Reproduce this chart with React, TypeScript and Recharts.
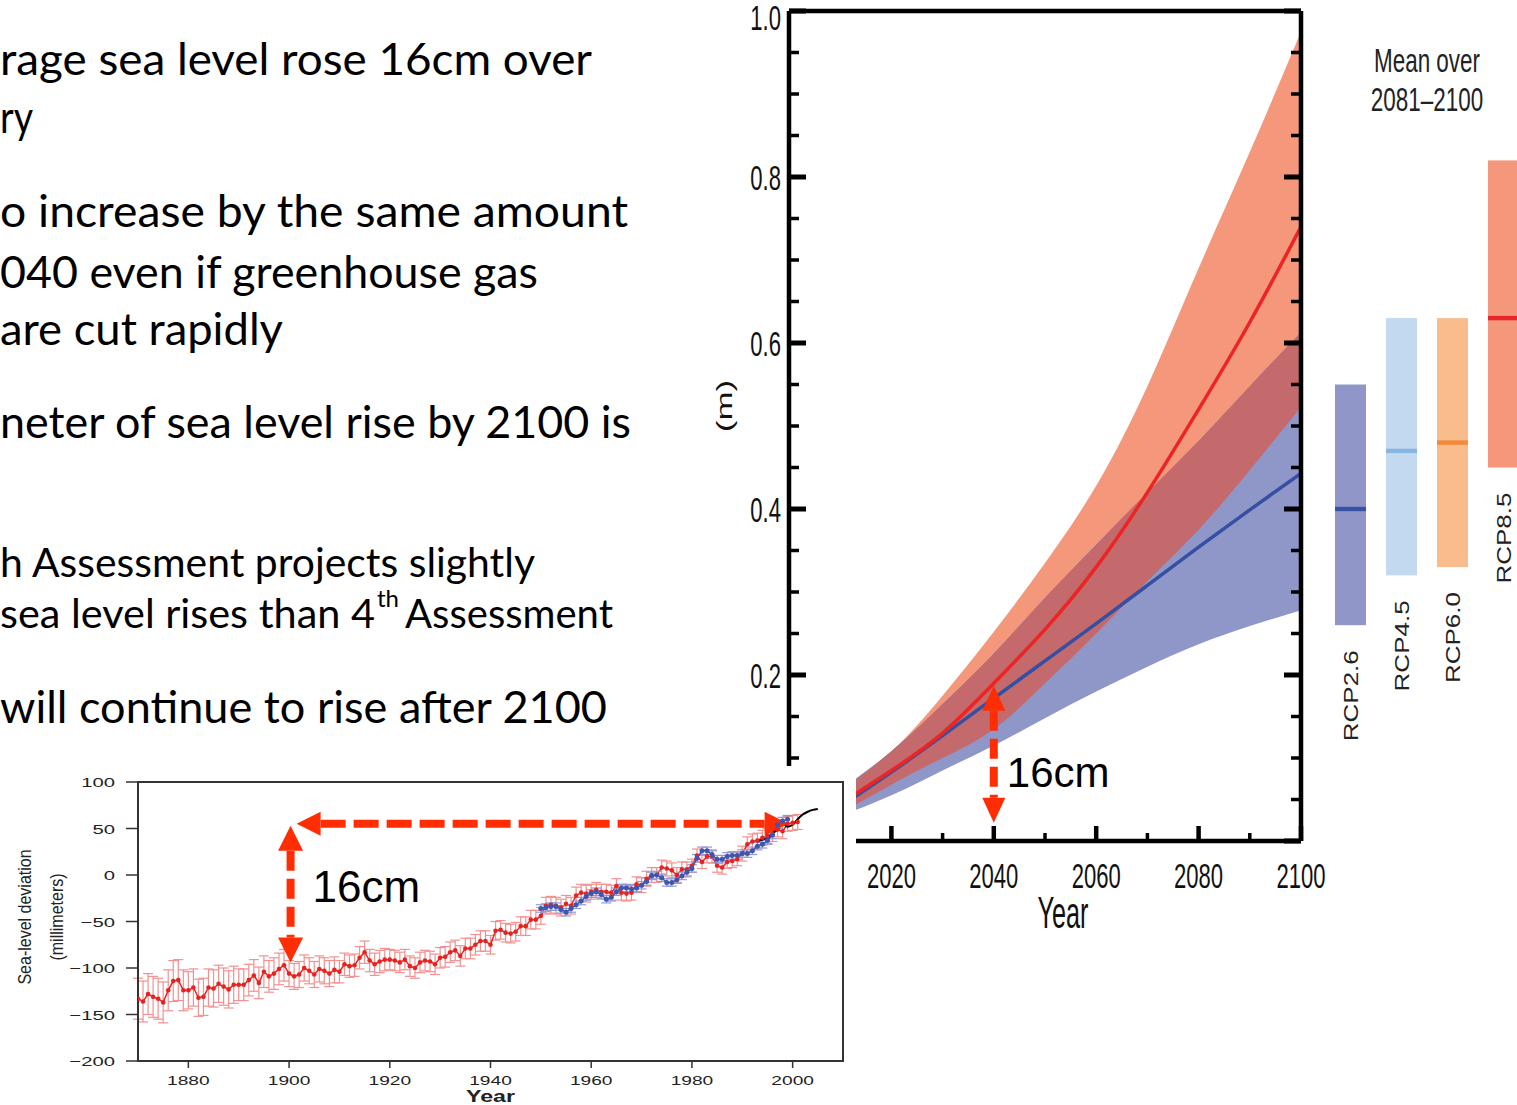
import React from "react";
import {
  ComposedChart,
  BarChart,
  Area,
  Line,
  Bar,
  XAxis,
  YAxis,
  ErrorBar,
  ReferenceLine,
  ReferenceArea,
} from "recharts";

const HELV = "'Liberation Sans', Arial, Helvetica, sans-serif";
const SLIDE_FONT = "Lato, 'Open Sans', sans-serif";
const ARROW_RED = "#fe2d04";

// projected global mean sea level rise (m)
const projYears = [2006, 2010, 2020, 2030, 2040, 2050, 2060, 2070, 2080, 2090, 2100];
const rcp85Mean = [0.03, 0.045, 0.085, 0.13, 0.19, 0.255, 0.33, 0.42, 0.52, 0.625, 0.74];
const rcp85Low = [0.022, 0.033, 0.068, 0.1, 0.135, 0.19, 0.25, 0.313, 0.375, 0.447, 0.523];
const rcp85High = [0.045, 0.06, 0.108, 0.175, 0.252, 0.335, 0.428, 0.548, 0.69, 0.83, 0.975];
const rcp26Mean = [0.03, 0.042, 0.083, 0.127, 0.172, 0.217, 0.262, 0.308, 0.354, 0.399, 0.443];
const rcp26Low = [0.02, 0.03, 0.055, 0.085, 0.115, 0.148, 0.18, 0.21, 0.237, 0.259, 0.278];
const rcp26High = [0.045, 0.062, 0.108, 0.165, 0.226, 0.293, 0.357, 0.42, 0.482, 0.548, 0.613];

const xTicksMain = [2000, 2010, 2020, 2030, 2040, 2050, 2060, 2070, 2080, 2090, 2100];
const yTicksMain = [
  0, 0.05, 0.1, 0.15, 0.2, 0.25, 0.3, 0.35, 0.4, 0.45, 0.5, 0.55, 0.6, 0.65, 0.7, 0.75, 0.8,
  0.85, 0.9, 0.95, 1,
];

// mean over 2081-2100
const rcpNames = ["RCP2.6", "RCP4.5", "RCP6.0", "RCP8.5"];
const rcpLow = [0.26, 0.32, 0.33, 0.45];
const rcpHigh = [0.55, 0.63, 0.63, 0.82];
const rcpMean = [0.4, 0.47, 0.48, 0.63];
const rcpFill = ["#9097c8", "#c3d9ef", "#f8bc8d", "#f4977a"];
const rcpMeanColor = ["#3a52a3", "#86b6e2", "#f5893a", "#e8262a"];

// inset: tide gauge reconstruction (mm), one value a year from 1870
const gaugeStart = 1870;
const gaugeValues = [
  -133, -136, -128, -131, -133, -137, -124, -114, -113, -124,
  -124, -121, -132, -131, -121, -122, -117, -120, -123, -118,
  -118, -118, -113, -108, -116, -104, -109, -106, -101, -97,
  -106, -109, -107, -100, -103, -107, -101, -103, -106, -102,
  -104, -96, -98, -97, -89, -83, -92, -96, -93, -91,
  -91, -92, -94, -91, -98, -100, -94, -92, -93, -96,
  -89, -88, -83, -81, -87, -79, -79, -75, -71, -71,
  -75, -60, -59, -62, -63, -61, -55, -55, -48, -48,
  -44, -33, -32, -33, -35, -31, -33, -22, -19, -20,
  -18, -16, -18, -18, -19, -12, -19, -20, -19, -10,
  -11, -4, 0, 0, 8, 7, 5, 0, 6, 6,
  10, 21, 14, 20, 20, 10, 8, 14, 15, 17,
  23, 33, 36, 37, 40, 42, 44, 49, 47, 55,
  56, 57,
];
// error half-width per decade, 1870s .. 2000s
const gaugeErrByDecade = [22, 20, 17, 14, 12, 11, 11, 10, 9, 8, 8, 7, 8, 8];

const gauge2Start = 1950;
const gauge2Values = [
  -36, -35, -34, -34, -37, -40, -36, -32, -28, -23,
  -20, -18, -21, -26, -24, -18, -14, -14, -15, -14,
  -11, -7, -1, 0, -3, -8, -8, -5, -1, 3,
  7, 18, 26, 26, 22, 17, 17, 20, 21, 21,
  23, 23, 26, 31, 33, 37, 43, 54, 58, 60,
];
const gauge2Err = 4;

const satStart = 1993;
const satValues = [36, 38, 40, 45, 49, 56, 52, 54, 60, 65, 68, 70, 71];

const insetXTicks = [1880, 1900, 1920, 1940, 1960, 1980, 2000];
const insetYTicks = [-200, -150, -100, -50, 0, 50, 100];

const projData = projYears.map((year, i) => ({
  year,
  rcp85: [rcp85Low[i], rcp85High[i]],
  rcp26: [rcp26Low[i], rcp26High[i]],
  both: [Math.max(rcp85Low[i], rcp26Low[i]), Math.min(rcp85High[i], rcp26High[i])],
  rcp85m: rcp85Mean[i],
  rcp26m: rcp26Mean[i],
}));

const rcpData = rcpNames.map((name, i) => ({
  name,
  range: [rcpLow[i], rcpHigh[i]],
  mean: rcpMean[i],
}));

const insetData: any[] = [];
for (let year = gaugeStart; year <= 2006; year++) {
  const row: any = { year };
  const gi = year - gaugeStart;
  if (gi < gaugeValues.length) {
    row.gauge = gaugeValues[gi];
    row.gaugeErr = gaugeErrByDecade[Math.floor(gi / 10)];
  }
  const bi = year - gauge2Start;
  if (bi >= 0 && bi < gauge2Values.length) {
    row.gauge2 = gauge2Values[bi];
    row.gauge2Err = gauge2Err;
  }
  const si = year - satStart;
  if (si >= 0 && si < satValues.length) row.sat = satValues[si];
  insetData.push(row);
}

// ---- ticks of the big panel (all pointing inwards)
const BottomTick = (props: any) => {
  const { x, y, payload } = props;
  const major = payload.value % 20 === 0;
  return (
    <g>
      <line x1={x} x2={x} y1={y} y2={y - (major ? 15 : 8)} stroke="#000" strokeWidth={major ? 4.5 : 3.5} />
      {major && payload.value > 2000 && (
        <text
          transform={`translate(${x},${y + 47}) scale(0.63,1)`}
          textAnchor="middle"
          fontSize={35}
          fontFamily={HELV}
          fill="#111"
        >
          {payload.value}
        </text>
      )}
    </g>
  );
};

const TopTick = (props: any) => {
  const { x, y, payload } = props;
  const major = payload.value % 20 === 0;
  return (
    <line x1={x} x2={x} y1={y} y2={y + (major ? 15 : 8)} stroke="#000" strokeWidth={major ? 4.5 : 3.5} />
  );
};

const LeftTick = (props: any) => {
  const { x, y, payload } = props;
  const v = Math.round(payload.value * 100);
  const major = v % 20 === 0;
  return (
    <g>
      <line x1={x} x2={x + (major ? 17 : 10)} y1={y} y2={y} stroke="#000" strokeWidth={major ? 5 : 3.5} />
      {major && v > 0 && (
        <text
          transform={`translate(${x - 8},${v === 100 ? y + 19 : y + 12.5}) scale(0.63,1)`}
          textAnchor="end"
          fontSize={35}
          fontFamily={HELV}
          fill="#111"
        >
          {payload.value.toFixed(1)}
        </text>
      )}
    </g>
  );
};

const RightTick = (props: any) => {
  const { x, y, payload } = props;
  const major = Math.round(payload.value * 100) % 20 === 0;
  return (
    <line x1={x} x2={x - (major ? 17 : 10)} y1={y} y2={y} stroke="#000" strokeWidth={major ? 5 : 3.5} />
  );
};

const renderMLabel = (props: any) => {
  const vb = props.viewBox || { x: 0, y: 11, width: 89, height: 830 };
  const cx = vb.x + 24;
  const cy = vb.y + vb.height / 2 - 20;
  return (
    <text
      transform={`translate(${cx},${cy}) scale(0.65,1) rotate(-90)`}
      textAnchor="middle"
      dominantBaseline="central"
      fontSize={35}
      fontFamily={HELV}
      fill="#111"
    >
      (m)
    </text>
  );
};

const renderYearLabel = (props: any) => {
  const vb = props.viewBox || { x: 89, y: 841, width: 512, height: 60 };
  return (
    <text
      transform={`translate(${vb.x + vb.width / 2 + 18},${vb.y + 87}) scale(0.56,1)`}
      textAnchor="middle"
      fontSize={45}
      fontFamily={HELV}
      fill="#111"
    >
      Year
    </text>
  );
};

// ---- dashed double arrows used as annotations
const makeArrow =
  (o: { thick: number; dash: string; head: number; halfW: number; label?: string; dx?: number; dy?: number; fontSize?: number }) =>
  (props: any) => {
    const { x1, y1, x2, y2 } = props;
    const len = Math.hypot(x2 - x1, y2 - y1) || 1;
    const ux = (x2 - x1) / len;
    const uy = (y2 - y1) / len;
    const px = -uy;
    const py = ux;
    const tri = (tx: number, ty: number, dir: number) => {
      const bx = tx - dir * ux * o.head;
      const by = ty - dir * uy * o.head;
      return `${tx},${ty} ${bx + px * o.halfW},${by + py * o.halfW} ${bx - px * o.halfW},${by - py * o.halfW}`;
    };
    const bottom = Math.max(y1, y2);
    return (
      <g>
        <line
          x1={x1 + ux * o.head}
          y1={y1 + uy * o.head}
          x2={x2 - ux * o.head}
          y2={y2 - uy * o.head}
          stroke={ARROW_RED}
          strokeWidth={o.thick}
          strokeDasharray={o.dash}
        />
        <polygon points={tri(x1, y1, -1)} fill={ARROW_RED} />
        <polygon points={tri(x2, y2, 1)} fill={ARROW_RED} />
        {o.label && (
          <text x={x1 + (o.dx || 0)} y={bottom + (o.dy || 0)} fontSize={o.fontSize} fontFamily={HELV} fill="#000">
            {o.label}
          </text>
        )}
      </g>
    );
  };

const mainArrow = makeArrow({ thick: 8, dash: "20 8", head: 25, halfW: 11.5, label: "16cm", dx: 13, dy: -36, fontSize: 42 });
const insetHArrow = makeArrow({ thick: 8, dash: "25 8", head: 24, halfW: 12 });
const insetVArrow = makeArrow({ thick: 8, dash: "20 8", head: 25, halfW: 12.5, label: "16cm", dx: 22, dy: -60, fontSize: 44 });

// ---- range bars for 2081-2100
const RcpBar = (props: any) => {
  const { x, y, width, height, payload, index } = props;
  const [lo, hi] = payload.range;
  const my = y + (height * (hi - payload.mean)) / (hi - lo);
  const cx = x + width / 2;
  const ly = y + height + 25;
  return (
    <g>
      <rect x={x} y={y} width={width} height={height} fill={rcpFill[index]} />
      <rect x={x} y={my - 2.2} width={width} height={4.4} fill={rcpMeanColor[index]} />
      <text
        transform={`translate(${cx},${ly}) scale(0.8,1) rotate(-90)`}
        textAnchor="end"
        dominantBaseline="central"
        fontSize={26}
        fontFamily={HELV}
        fill="#222"
      >
        {payload.name}
      </text>
    </g>
  );
};

// ---- inset ticks
const InsetXTick = (props: any) => {
  const { x, y, payload } = props;
  return (
    <g>
      <line x1={x} x2={x} y1={y} y2={y + 7} stroke="#333" strokeWidth={1.5} />
      <text
        transform={`translate(${x},${y + 24}) scale(1.42,1)`}
        textAnchor="middle"
        fontSize={13.5}
        fontFamily={HELV}
        fill="#222"
      >
        {payload.value}
      </text>
    </g>
  );
};

const InsetYTick = (props: any) => {
  const { x, y, payload } = props;
  const label = payload.value < 0 ? `\u2212${Math.abs(payload.value)}` : `${payload.value}`;
  return (
    <g>
      <line x1={x - 12} x2={x} y1={y} y2={y} stroke="#333" strokeWidth={1.5} />
      <text
        transform={`translate(${x - 23},${y + 5}) scale(1.5,1)`}
        textAnchor="end"
        fontSize={13.5}
        fontFamily={HELV}
        fill="#222"
      >
        {label}
      </text>
    </g>
  );
};

const renderInsetYTitle = (props: any) => {
  const vb = props.viewBox || { x: 0, y: 16, width: 138, height: 279 };
  const cy = vb.y + vb.height / 2 - 4.5;
  return (
    <g fontFamily={HELV} fill="#222" fontSize={16}>
      <text transform={`translate(${vb.x + 25},${cy}) scale(1.15,1) rotate(-90)`} textAnchor="middle" dominantBaseline="central">
        Sea-level deviation
      </text>
      <text transform={`translate(${vb.x + 57},${cy}) scale(1.15,1) rotate(-90)`} textAnchor="middle" dominantBaseline="central">
        (millimeters)
      </text>
    </g>
  );
};

const renderInsetYear = (props: any) => {
  const vb = props.viewBox || { x: 138, y: 295, width: 705, height: 30 };
  return (
    <text
      transform={`translate(${vb.x + vb.width / 2},${vb.y + 41}) scale(1.45,1)`}
      textAnchor="middle"
      fontSize={16}
      fontWeight={700}
      fontFamily={HELV}
      fill="#222"
    >
      Year
    </text>
  );
};

const axisBlack = { stroke: "#000", strokeWidth: 4.5 };

export default function App() {
  return (
    <div
      style={{
        position: "absolute",
        left: 0,
        top: 0,
        width: 1517,
        height: 1105,
        overflow: "hidden",
        background: "#fff",
      }}
    >
      {/* slide text and panel title */}
      <svg width={1517} height={760} style={{ position: "absolute", left: 0, top: 0 }}>
        <g fontFamily={SLIDE_FONT} fill="#000">
          <text x={0} y={75} fontSize={44} textLength={592} lengthAdjust="spacingAndGlyphs">
            rage sea level rose 16cm over
          </text>
          <text x={0} y={133} fontSize={44} textLength={33} lengthAdjust="spacingAndGlyphs">
            ry
          </text>
          <text x={0} y={227} fontSize={44} textLength={628} lengthAdjust="spacingAndGlyphs">
            o increase by the same amount
          </text>
          <text x={0} y={288} fontSize={44} textLength={538} lengthAdjust="spacingAndGlyphs">
            040 even if greenhouse gas
          </text>
          <text x={0} y={345} fontSize={44} textLength={283} lengthAdjust="spacingAndGlyphs">
            are cut rapidly
          </text>
          <text x={0} y={438} fontSize={44} textLength={631} lengthAdjust="spacingAndGlyphs">
            neter of sea level rise by 2100 is
          </text>
          <text x={0} y={577} fontSize={40} textLength={535} lengthAdjust="spacingAndGlyphs">
            h Assessment projects slightly
          </text>
          <text x={0} y={628} fontSize={40} textLength={375} lengthAdjust="spacingAndGlyphs">
            sea level rises than 4
          </text>
          <text x={377} y={607} fontSize={24} textLength={22} lengthAdjust="spacingAndGlyphs">
            th
          </text>
          <text x={405} y={628} fontSize={40} textLength={208} lengthAdjust="spacingAndGlyphs">
            Assessment
          </text>
          <text x={0} y={723} fontSize={44} textLength={607} lengthAdjust="spacingAndGlyphs">
            will continue to rise after 2100
          </text>
        </g>
        <g fontFamily={HELV} fill="#222" fontSize={33}>
          <text transform="translate(1427,72) scale(0.68,1)" textAnchor="middle">
            Mean over
          </text>
          <text transform="translate(1427,111) scale(0.68,1)" textAnchor="middle">
            2081–2100
          </text>
        </g>
      </svg>

      {/* projections 2006-2100 */}
      <div style={{ position: "absolute", left: 700, top: 0 }}>
        <ComposedChart width={640} height={940} data={projData} margin={{ top: 10, right: 28, bottom: 39, left: 0 }}>
          <XAxis
            xAxisId="b"
            dataKey="year"
            type="number"
            domain={[2000, 2100]}
            allowDataOverflow
            ticks={xTicksMain}
            interval={0}
            tickSize={0}
            tickMargin={0}
            tickLine={false}
            tick={BottomTick}
            axisLine={axisBlack}
            height={60}
            label={renderYearLabel}
          />
          <XAxis
            xAxisId="t"
            orientation="top"
            type="number"
            domain={[2000, 2100]}
            allowDataOverflow
            ticks={xTicksMain}
            interval={0}
            tickSize={0}
            tickMargin={0}
            tickLine={false}
            tick={TopTick}
            axisLine={axisBlack}
            height={1}
          />
          <YAxis
            yAxisId="l"
            type="number"
            domain={[0, 1]}
            allowDataOverflow
            ticks={yTicksMain}
            interval={0}
            tickSize={0}
            tickMargin={0}
            tickLine={false}
            tick={LeftTick}
            axisLine={axisBlack}
            width={89}
            label={renderMLabel}
          />
          <YAxis
            yAxisId="r"
            orientation="right"
            type="number"
            domain={[0, 1]}
            allowDataOverflow
            ticks={yTicksMain}
            interval={0}
            tickSize={0}
            tickMargin={0}
            tickLine={false}
            tick={RightTick}
            axisLine={axisBlack}
            width={11}
          />
          <Area xAxisId="b" yAxisId="l" type="natural" dataKey="rcp85" fill="#f4977a" fillOpacity={1} stroke="none" isAnimationActive={false} />
          <Area xAxisId="b" yAxisId="l" type="natural" dataKey="rcp26" fill="#8f96c8" fillOpacity={1} stroke="none" isAnimationActive={false} />
          <Area xAxisId="b" yAxisId="l" type="natural" dataKey="both" fill="#c4696c" fillOpacity={1} stroke="none" isAnimationActive={false} />
          <Line xAxisId="b" yAxisId="l" type="natural" dataKey="rcp26m" stroke="#3550a3" strokeWidth={3.5} dot={false} isAnimationActive={false} />
          <Line xAxisId="b" yAxisId="l" type="natural" dataKey="rcp85m" stroke="#ec2424" strokeWidth={3.5} dot={false} isAnimationActive={false} />
          <ReferenceLine
            xAxisId="b"
            yAxisId="l"
            segment={[
              { x: 2040, y: 0.187 },
              { x: 2040, y: 0.022 },
            ]}
            shape={mainArrow}
          />
        </ComposedChart>
      </div>

      {/* mean over 2081-2100 */}
      <div style={{ position: "absolute", left: 1320, top: 0 }}>
        <BarChart width={240} height={940} data={rcpData} margin={{ top: 11, right: 31, bottom: 99, left: 5 }}>
          <XAxis dataKey="name" hide />
          <YAxis type="number" domain={[0, 1]} hide />
          <Bar dataKey="range" barSize={31} isAnimationActive={false} shape={RcpBar} />
        </BarChart>
      </div>

      {/* inset: observed sea level 1870-2006 */}
      <div style={{ position: "absolute", left: 0, top: 766, width: 856, height: 339, background: "#fff" }}>
        <ComposedChart width={856} height={339} data={insetData} margin={{ top: 16, right: 13, bottom: 14, left: 0 }}>
          <XAxis
            dataKey="year"
            type="number"
            domain={[1870, 2010]}
            allowDataOverflow
            ticks={insetXTicks}
            interval={0}
            tickSize={0}
            tickMargin={0}
            tickLine={false}
            tick={InsetXTick}
            axisLine={{ stroke: "#333", strokeWidth: 2 }}
            height={30}
            label={renderInsetYear}
          />
          <YAxis
            type="number"
            domain={[-200, 100]}
            allowDataOverflow
            ticks={insetYTicks}
            interval={0}
            tickSize={0}
            tickMargin={0}
            tickLine={false}
            tick={InsetYTick}
            axisLine={{ stroke: "#333", strokeWidth: 2 }}
            width={138}
            label={renderInsetYTitle}
          />
          <ReferenceArea x1={1870} x2={2010} y1={-200} y2={100} fill="none" fillOpacity={0} stroke="#333" strokeWidth={2} />
          <Line
            dataKey="gauge"
            stroke="#e8231f"
            strokeWidth={1.5}
            dot={{ r: 2.3, fill: "#e8231f", stroke: "none" }}
            isAnimationActive={false}
          >
            <ErrorBar dataKey="gaugeErr" width={5} stroke="#f29191" strokeWidth={1.2} direction="y" />
          </Line>
          <Line
            dataKey="gauge2"
            stroke="#3f56b0"
            strokeWidth={1.5}
            dot={{ r: 2.5, fill: "#3f56b0", stroke: "none" }}
            isAnimationActive={false}
          >
            <ErrorBar dataKey="gauge2Err" width={5} stroke="#8c9bd8" strokeWidth={1.2} direction="y" />
          </Line>
          <Line dataKey="sat" stroke="#000" strokeWidth={2} dot={false} isAnimationActive={false} type="monotone" />
          <ReferenceLine
            segment={[
              { x: 1901.5, y: 55 },
              { x: 1999.2, y: 55 },
            ]}
            shape={insetHArrow}
          />
          <ReferenceLine
            segment={[
              { x: 1900.3, y: 53 },
              { x: 1900.3, y: -94 },
            ]}
            shape={insetVArrow}
          />
        </ComposedChart>
      </div>
    </div>
  );
}
